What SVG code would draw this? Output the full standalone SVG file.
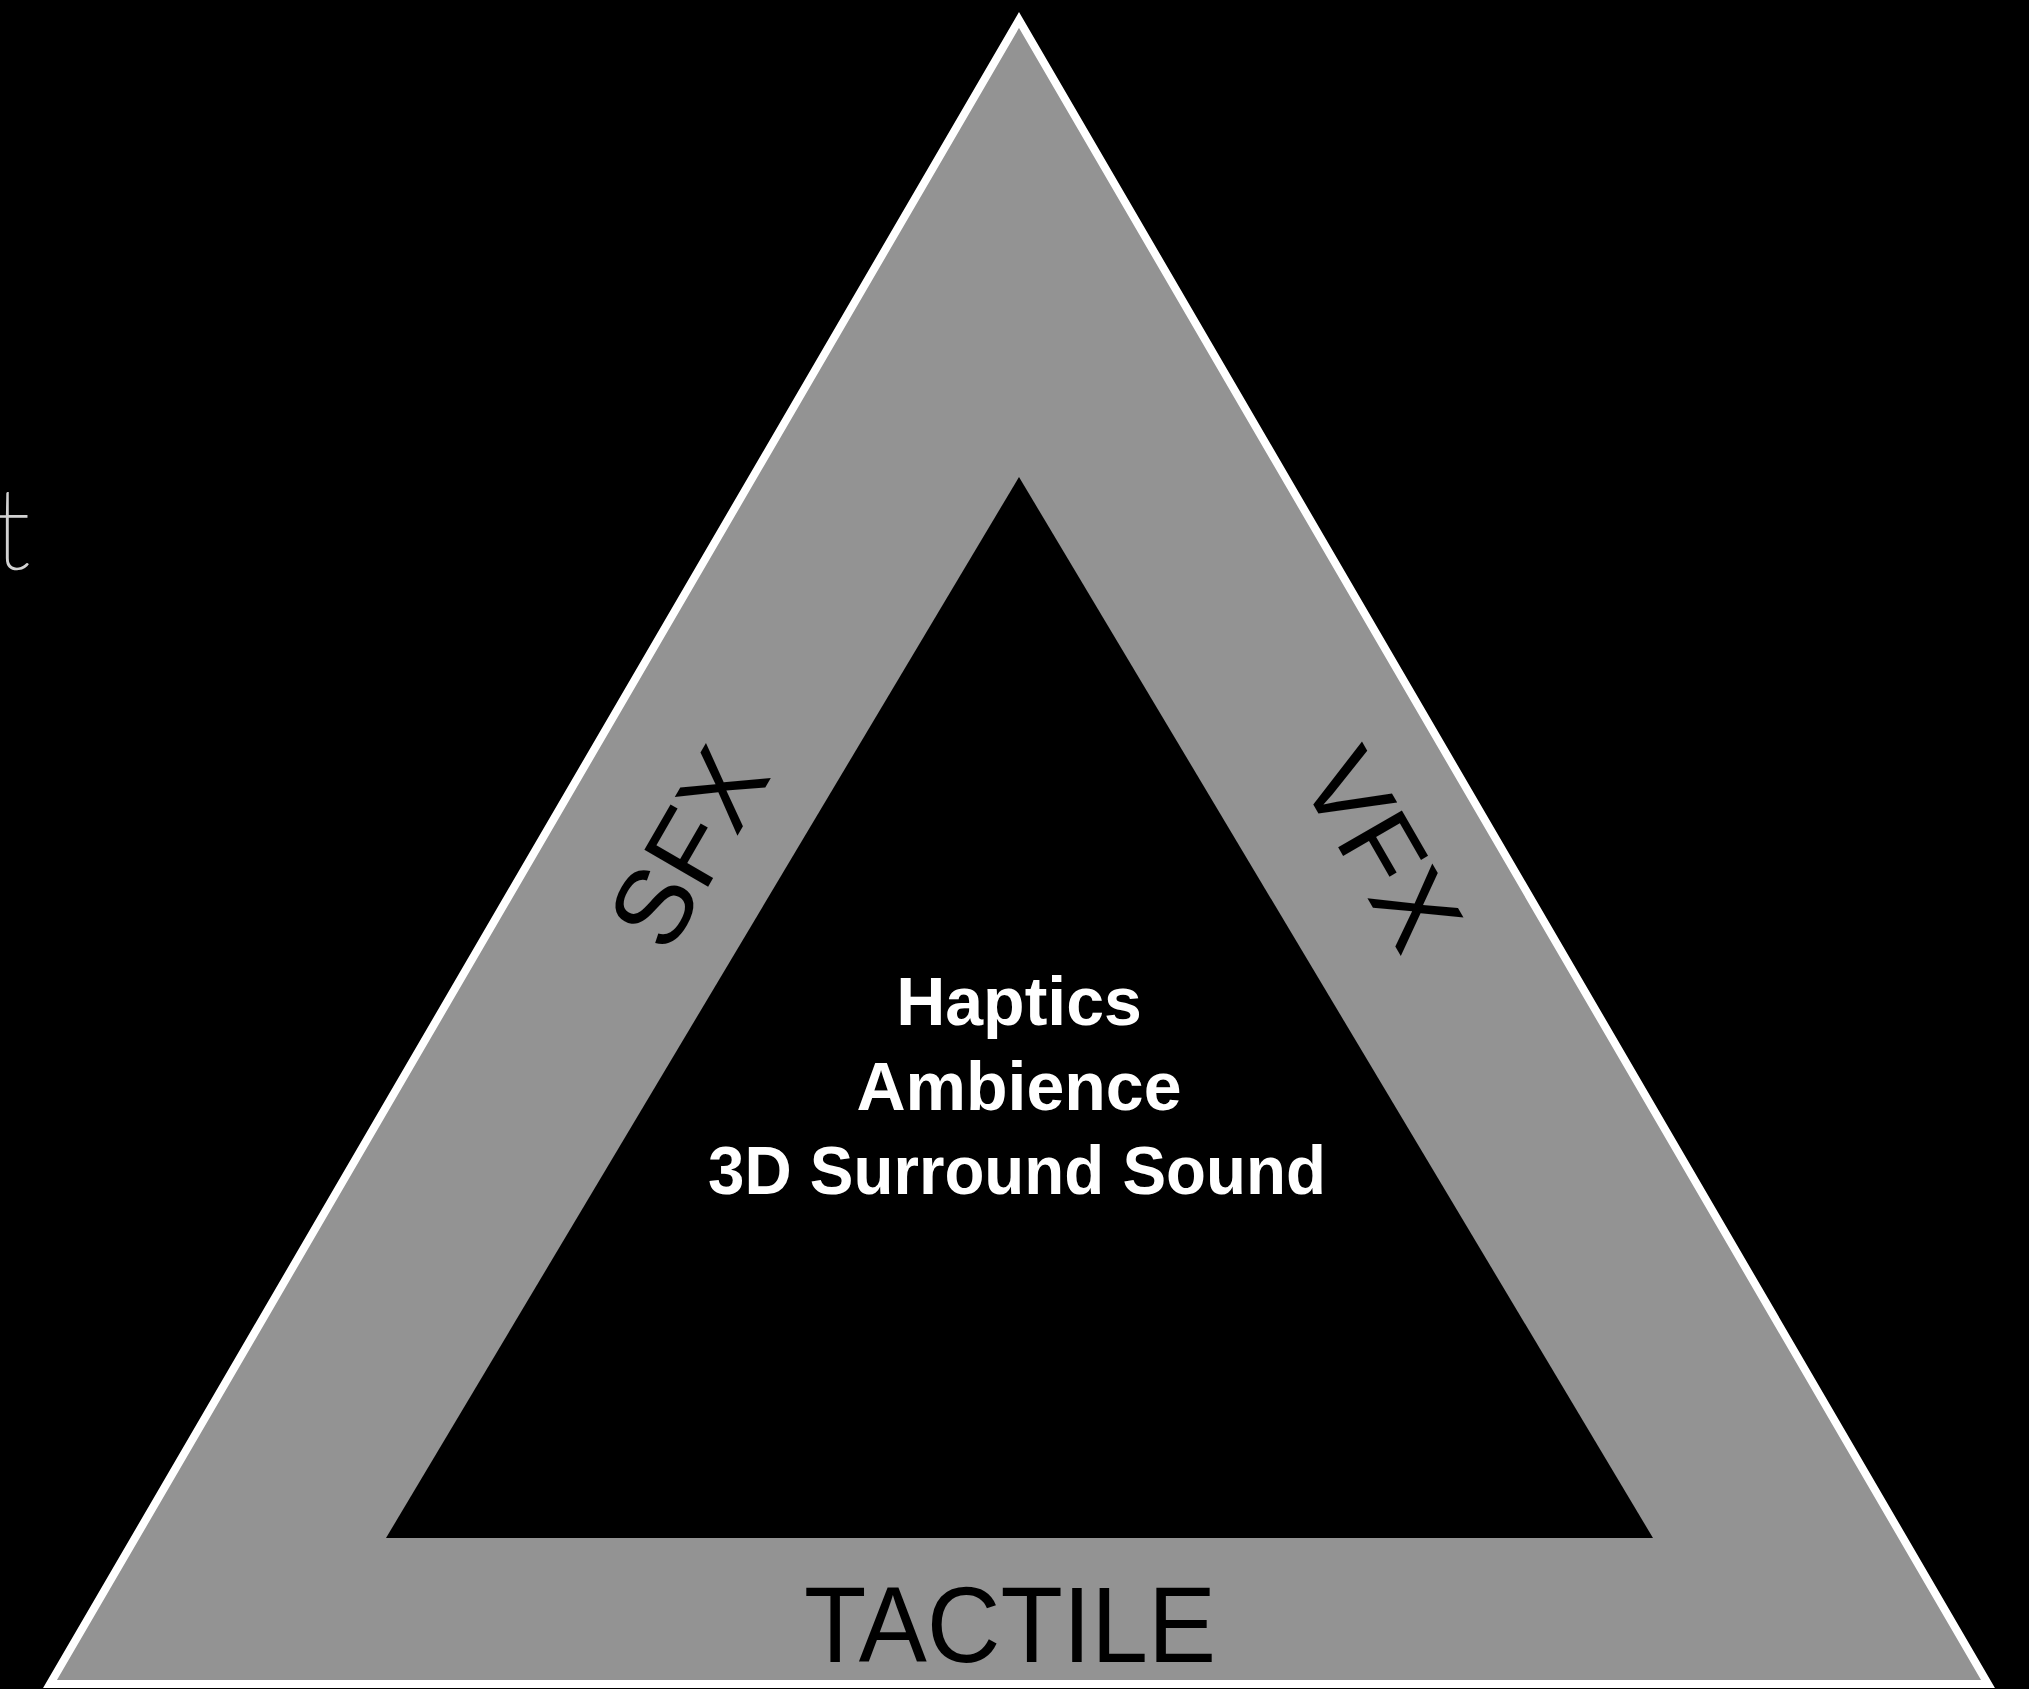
<svg xmlns="http://www.w3.org/2000/svg" width="2029" height="1689" viewBox="0 0 2029 1689">
<style>
.band{font-family:"Liberation Sans",Arial,sans-serif;font-size:107px;fill:#000}
.core{font-family:"Liberation Sans",Arial,sans-serif;font-size:68px;font-weight:bold;fill:#fff;text-anchor:middle}
.side{font-family:Lato,"Open Sans",sans-serif;font-weight:100;font-size:112px;fill:#d2d2d2;stroke:#d2d2d2;stroke-width:1.5}
</style>
<rect width="2029" height="1689" fill="#000"/>
<text class="side" x="30" y="569" text-anchor="end">t</text>
<g id="outer">
<polygon points="1019,20 50,1684 1988,1684" fill="#939393" stroke="#fff" stroke-width="8" stroke-linejoin="miter"/>
</g>
<g id="inner">
<polygon points="1019,477 386,1538 1653,1538" fill="#000"/>
</g>
<g id="sfx"><text class="band" text-anchor="middle" transform="translate(720,866) rotate(-60)">SFX</text></g>
<g id="vfx"><text class="band" text-anchor="middle" transform="translate(1350,868) rotate(60)">VFX</text></g>
<g id="tactile"><text class="band" x="804" y="1662" textLength="412" lengthAdjust="spacingAndGlyphs">TACTILE</text></g>
<g id="center">
<text class="core" x="1019" y="1025">Haptics</text>
<text class="core" x="1019" y="1110">Ambience</text>
<text class="core" x="1017" y="1194" textLength="618" lengthAdjust="spacingAndGlyphs">3D Surround Sound</text>
</g>
<g id="connectors"></g>
</svg>
